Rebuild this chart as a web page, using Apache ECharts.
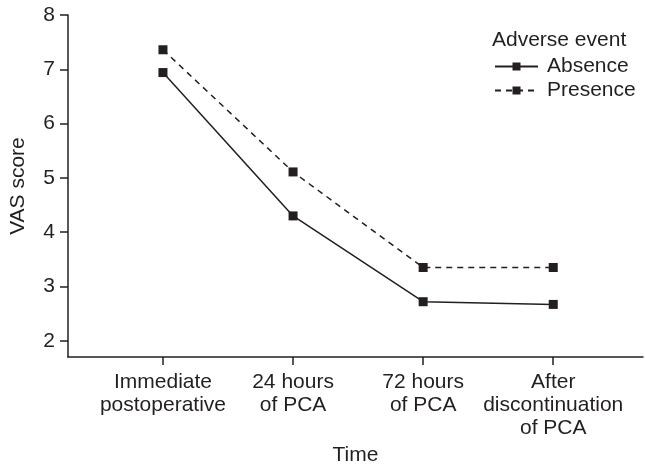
<!DOCTYPE html>
<html><head><meta charset="utf-8">
<script src="https://cdn.jsdelivr.net/npm/echarts@6/dist/echarts.min.js"></script>
<style>html,body{margin:0;padding:0;background:#fff;overflow:hidden}#c{width:645px;height:471px}</style>
</head><body><div id="c"></div>
<script>
const categories = ["Immediate\npostoperative", "24 hours\nof PCA", "72 hours\nof PCA", "After\ndiscontinuation\nof PCA"];
const absence = [6.94, 4.30, 2.72, 2.67];
const presence = [7.36, 5.11, 3.35, 3.35];
const yTicks = [2, 3, 4, 5, 6, 7, 8];
const xTicks = [1, 2, 3, 4];

const ink = '#231f20';
const font = 'Liberation Sans, Arial, Helvetica, sans-serif';
const fs = 21;
const chart = echarts.init(document.getElementById('c'));
const pts = arr => arr.map((v, i) => [xTicks[i], v]);
chart.setOption({
  animation: false,
  textStyle: {fontFamily: font, color: ink},
  grid: {left: 68, right: 2, top: 15, bottom: 105},
  title: {text: 'Adverse event', left: 492, top: 29, textStyle: {fontFamily: font, fontSize: fs, lineHeight: 22, fontWeight: 'normal', color: ink}, padding: 0},
  legend: {
    orient: 'vertical', left: 489, top: 51, itemWidth: 43, itemHeight: 10, itemGap: 3,
    textStyle: {fontFamily: font, fontSize: fs, lineHeight: 21, color: ink, padding: [0, 0, 0, 4]},
    data: ['Absence', 'Presence']
  },
  xAxis: {
    type: 'value', min: 0.27, max: 4.69,
    name: 'Time', nameLocation: 'middle', nameGap: 86,
    nameTextStyle: {fontFamily: font, fontSize: fs, color: ink},
    axisLine: {show: true, lineStyle: {color: ink, width: 1.5}},
    axisTick: {show: true, customValues: xTicks, length: 8, lineStyle: {color: ink, width: 1.5}},
    axisLabel: {customValues: xTicks, margin: 14, lineHeight: 23, fontFamily: font, fontSize: fs, color: ink,
      formatter: v => categories[Math.round(v) - 1] || ''},
    splitLine: {show: false}
  },
  yAxis: {
    type: 'value', min: 1.7, max: 8,
    name: 'VAS score', nameLocation: 'middle', nameGap: 39,
    nameTextStyle: {fontFamily: font, fontSize: fs, color: ink},
    axisLine: {show: true, lineStyle: {color: ink, width: 1.5}},
    axisTick: {show: true, customValues: yTicks, length: 8, lineStyle: {color: ink, width: 1.5}},
    axisLabel: {customValues: yTicks, margin: 13, fontFamily: font, fontSize: fs, color: ink},
    splitLine: {show: false}
  },
  series: [
    {name: 'Absence', type: 'line', data: pts(absence), symbol: 'rect', symbolSize: 9,
      itemStyle: {color: ink}, lineStyle: {color: ink, width: 1.5, type: 'solid'}},
    {name: 'Presence', type: 'line', data: pts(presence), symbol: 'rect', symbolSize: 9,
      itemStyle: {color: ink}, lineStyle: {color: ink, width: 1.5, type: [6, 5]}}
  ]
});
</script></body></html>
